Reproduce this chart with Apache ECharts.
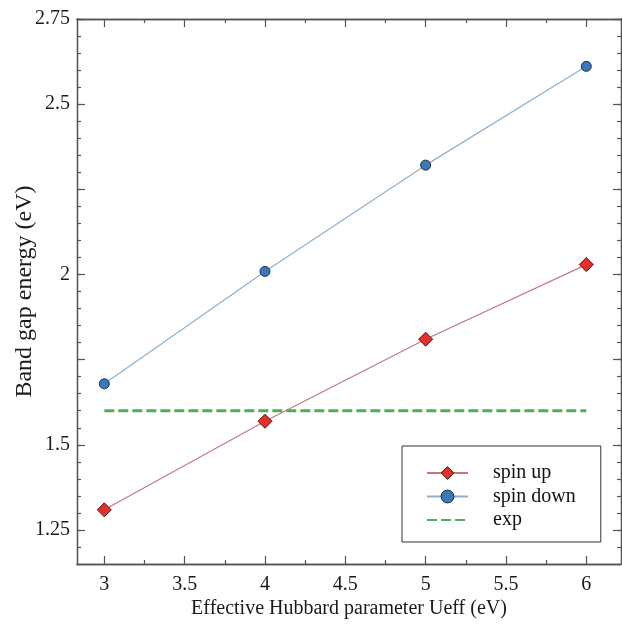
<!DOCTYPE html>
<html>
<head>
<meta charset="utf-8">
<script src="https://cdn.jsdelivr.net/npm/echarts@6/dist/echarts.min.js"></script>
<style>
  html, body { margin: 0; padding: 0; background: #fff; }
  #chart { width: 622px; height: 627px; }
</style>
</head>
<body>
<div id="chart"></div>
<script>
// Ueff values (eV)
const ueff = [3, 4, 5, 6];
// band gaps (eV)
const spinUp = [1.309, 1.569, 1.810, 2.029];
const spinDown = [1.679, 2.009, 2.321, 2.611];
const expGap = 1.6;
const expRange = [3, 6];

// axis ticks
const xMajor = [3, 3.5, 4, 4.5, 5, 5.5, 6];
const xMinor = [3.25, 3.75, 4.25, 4.75, 5.25, 5.75];
const yMajor = [1.25, 1.5, 1.75, 2, 2.25, 2.5, 2.75];
const yLabels = [1.25, 1.5, 2, 2.5, 2.75];

const FONT = 'Liberation Serif';
const AXIS_COLOR = '#555';

function pairs(xs, ys) {
  return xs.map((x, i) => [x, ys[i]]);
}

const chart = echarts.init(document.getElementById('chart'));

// one x axis per side and tick size
function xAxisOf(position, ticks, len, withLabels) {
  return {
    type: 'value',
    position: position,
    min: 2.83,
    max: 6.216,
    axisLine: { show: true, onZero: false, lineStyle: { color: AXIS_COLOR, width: 1.3 } },
    axisTick: { show: true, inside: true, length: len, customValues: ticks,
      lineStyle: { color: AXIS_COLOR, width: 1.2 } },
    axisLabel: withLabels ? {
      show: true, customValues: ticks, margin: 11,
      fontFamily: FONT, fontSize: 20, color: '#1a1a1a'
    } : { show: false },
    splitLine: { show: false }
  };
}

function yAxisOf(position, opts, withLabels) {
  return Object.assign({
    type: 'value',
    position: position,
    min: 1.15,
    max: 2.75,
    axisLine: { show: true, onZero: false, lineStyle: { color: AXIS_COLOR, width: 1.3 } },
    axisLabel: withLabels ? {
      show: true, customValues: yLabels, margin: 7,
      fontFamily: FONT, fontSize: 20, color: '#1a1a1a',
      formatter: v => String(v)
    } : { show: false },
    splitLine: { show: false }
  }, opts);
}

const xMain = xAxisOf('bottom', xMajor, 8, true);
xMain.name = 'Effective Hubbard parameter Ueff (eV)';
xMain.nameLocation = 'middle';
xMain.nameGap = 35;
xMain.nameMoveOverlap = false;
xMain.nameTextStyle = { fontFamily: FONT, fontSize: 20, color: '#1a1a1a' };

const yMain = yAxisOf('left', {
  axisTick: { show: true, inside: true, length: 8, customValues: yMajor,
    lineStyle: { color: AXIS_COLOR, width: 1.2 } },
  name: 'Band gap energy (eV)',
  nameLocation: 'middle',
  nameGap: 40,
  nameMoveOverlap: false,
  nameTextStyle: { fontFamily: FONT, fontSize: 24, color: '#1a1a1a' }
}, true);

const yMinorTicks = {
  interval: 0.05,
  axisTick: { show: true, inside: true, length: 4, lineStyle: { color: AXIS_COLOR, width: 1.2 } }
};
const yMajorTicks = {
  axisTick: { show: true, inside: true, length: 8, customValues: yMajor,
    lineStyle: { color: AXIS_COLOR, width: 1.2 } }
};

const option = {
  backgroundColor: '#ffffff',
  animation: false,
  grid: { left: 77, top: 19, right: 1, bottom: 63, outerBoundsMode: 'none' },
  xAxis: [
    xMain,
    xAxisOf('bottom', xMinor, 4, false),
    xAxisOf('top', xMajor, 8, false),
    xAxisOf('top', xMinor, 4, false)
  ],
  yAxis: [
    yMain,
    yAxisOf('left', yMinorTicks, false),
    yAxisOf('right', yMajorTicks, false),
    yAxisOf('right', yMinorTicks, false)
  ],
  legend: {
    orient: 'vertical',
    left: 402,
    top: 446,
    padding: [17, 25, 12, 24],
    backgroundColor: '#ffffff',
    borderColor: '#333',
    borderWidth: 1,
    borderRadius: 0,
    itemWidth: 41,
    itemHeight: 16,
    itemGap: 3.5,
    itemStyle: { borderWidth: 1 },
    textStyle: { fontFamily: FONT, fontSize: 20, color: '#111', padding: [0, 0, 0, 20] },
    data: [
      'spin up',
      'spin down',
      { name: 'exp', itemStyle: { color: 'transparent', borderColor: 'transparent', borderWidth: 0, opacity: 0 } }
    ]
  },
  series: [
    {
      name: 'spin up',
      type: 'line',
      data: pairs(ueff, spinUp),
      symbol: 'diamond',
      symbolSize: 14,
      lineStyle: { color: '#c27a80', width: 1.2 },
      itemStyle: { color: '#e3302b', borderColor: '#4a1a1a', borderWidth: 1 },
      z: 3
    },
    {
      name: 'spin down',
      type: 'line',
      data: pairs(ueff, spinDown),
      symbol: 'circle',
      symbolSize: 10,
      lineStyle: { color: '#8fb0cc', width: 1.2 },
      itemStyle: { color: '#3c79b8', borderColor: '#1c2f48', borderWidth: 1 },
      z: 3
    },
    {
      name: 'exp',
      type: 'line',
      data: expRange.map(x => [x, expGap]),
      symbol: 'none',
      lineStyle: { color: '#4cae55', width: 3, type: [10, 4] },
      itemStyle: { color: '#4cae55' },
      z: 2
    }
  ]
};

chart.setOption(option);
</script>
</body>
</html>
